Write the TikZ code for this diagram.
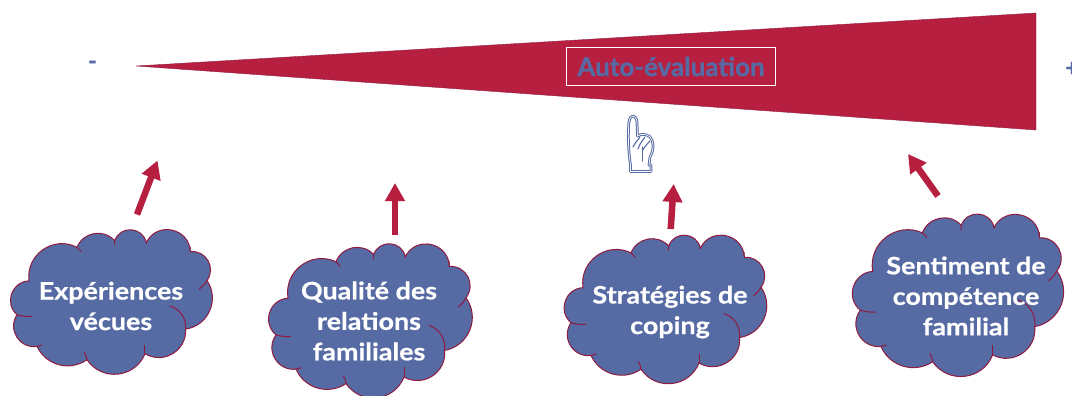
\documentclass[tikz,border=0pt]{standalone}
\usepackage{fontspec}
\setmainfont{Lato}[FakeStretch=1.12,BoldFeatures={FakeBold=0.6}]
\newfontfamily\autofont{Lato}[BoldFeatures={FakeBold=0.8}]
\usetikzlibrary{arrows.meta}
\definecolor{cloudblue}{HTML}{566AA3}
\definecolor{wedgered}{HTML}{B71F41}
\definecolor{edgered}{HTML}{8F1B3F}
\tikzset{
  wedge/.style={fill=wedgered,draw=edgered,line width=.4pt,line join=miter},
  cloudedge/.style={draw=edgered,line width=1pt},
  cloudtext/.style={text=white,font=\bfseries\fontsize{24}{30.5}\selectfont,align=center,inner sep=0pt},
  upshaft/.style={draw=wedgered,line width=6.5pt,-{Triangle[length=18pt,width=19pt]}},
  handline/.style={draw=cloudblue,line width=1pt,double=white,double distance=.7pt,line join=round},
  handfold/.style={draw=cloudblue,line width=1.1pt,line cap=round},
  signmark/.style={text=cloudblue,font=\autofont\bfseries\fontsize{24}{24}\selectfont,inner sep=0pt}
}
\newcommand{\cloudat}[4]{%
  \pgfmathsetmacro{\cx}{#3/612}\pgfmathsetmacro{\cy}{-#4/430}%
  \begin{scope}[shift={(#1,#2)},x=\cx pt,y=\cy pt]
    \path[fill=cloudblue,cloudedge] (60,153)
      to[bend left=62,looseness=1.16] (204,52)
      to[bend left=58,looseness=1.11] (317,32)
      to[bend left=74,looseness=1.33] (412,38)
      to[bend left=76,looseness=1.36] (544,65)
      to[bend left=66,looseness=1.21] (594,152)
      to[bend left=58,looseness=1.11] (530,298)
      to[bend left=62,looseness=1.16] (408,372)
      to[bend left=62,looseness=1.16] (234,390)
      to[bend left=50,looseness=1.04] (84,350)
      to[bend left=66,looseness=1.21] (24,255)
      to[bend left=68,looseness=1.24] cycle;
    \draw[cloudedge] (204,52) to[bend left=14] (217,65);
    \draw[cloudedge] (317,32) to (316,45);
    \draw[cloudedge] (412,38) to (410,40);
    \draw[cloudedge] (544,65) to (543,50);
    \draw[cloudedge] (594,152) to[bend left=10] (570,178);
    \draw[cloudedge] (530,298) to[bend right=38] (482,228);
    \draw[cloudedge] (408,372) to (408,345);
    \draw[cloudedge] (234,390) to[bend right=12] (226,368);
    \draw[cloudedge] (84,350) to (100,346);
    \draw[cloudedge] (24,255) to[bend right=8] (69,260);
  \end{scope}}
\begin{document}
\begin{tikzpicture}[x=1pt,y=-1pt]
\useasboundingbox (0,0) rectangle (1072,396);
% wedge
\coordinate (tip) at (136,66);
\coordinate (topright) at (1036,13);
\coordinate (botright) at (1036,130);
\path[wedge] (tip) -- (topright) -- (botright) -- cycle;
\node[draw=white,line width=.8pt,minimum width=209pt,minimum height=38pt,inner sep=0pt,
      text=cloudblue,font=\autofont\bfseries\fontsize{26}{30}\selectfont] (auto) at (671,66.5) {Auto-évaluation};
\node[signmark] (minus) at (92.5,65) {-};
\node[signmark,anchor=west] (plus) at (1065,69) {+};
% hand
\path[handline] (630.5,165) .. controls (628,150) and (628,130) .. (629,122)
  .. controls (630,114) and (636,114) .. (637,122)
  -- (637.5,136) .. controls (642,133) and (650,134) .. (652,140)
  .. controls (654,146) and (653,152) .. (650,157)
  -- (649,165) -- (651,165) -- (651,171.5) -- (630.5,171.5) -- cycle;
\draw[handfold] (633,147) .. controls (636,141) and (639,139) .. (640,137);
\draw[handfold] (638,149) .. controls (640,143) and (643,140) .. (645,137);
\draw[handfold] (643,150) .. controls (645,146) and (648,143) .. (650,141);
\draw[handfold] (642.5,147) -- (642.5,161);
% clouds
\cloudat{9}{230}{204}{143}
\cloudat{268}{243}{204}{155}
\cloudat{563}{235}{204}{148}
\cloudat{852}{213}{211}{164}
\node[cloudtext] (c1) at (111,306) {Expériences\\vécues};
\node[cloudtext] (c2) at (369,321) {Qualité des\\relations\\familiales};
\node[cloudtext] (c3) at (670,312) {Stratégies de\\coping};
\node[cloudtext] (c4) at (966,296) {Sentiment de\\compétence\\familial};
% arrows
\coordinate (a1s) at (137,214.5); \coordinate (a1e) at (157.5,160.5);
\coordinate (a2s) at (395,235);   \coordinate (a2e) at (395,183);
\coordinate (a3s) at (670.7,229); \coordinate (a3e) at (673.7,184);
\coordinate (a4s) at (938,196);   \coordinate (a4e) at (908,154);
\draw[upshaft] (a1s) -- (a1e);
\draw[upshaft] (a2s) -- (a2e);
\draw[upshaft] (a3s) -- (a3e);
\draw[upshaft] (a4s) -- (a4e);
\end{tikzpicture}
\end{document}
